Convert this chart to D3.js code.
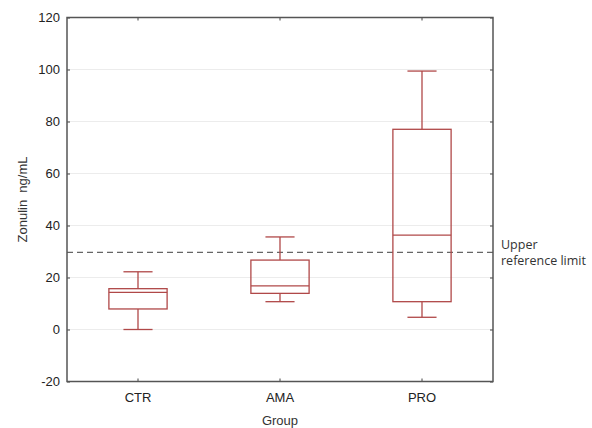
<!DOCTYPE html>
<html>
<head>
<meta charset="utf-8">
<script src="https://cdn.jsdelivr.net/npm/d3@7"></script>
<style>
  body { margin: 0; background: #fff; }
  svg { display: block; }
  .tick text { font-family: "Liberation Sans", Arial, sans-serif; font-size: 13px; fill: #222; }
</style>
</head>
<body>
<div id="chart"></div>
<script>
const groups = ["CTR", "AMA", "PRO"];
const whiskerLow = [0, 10.7, 4.7];
const boxLow = [7.9, 13.9, 10.7];
const medians = [14.3, 16.8, 36.3];
const boxHigh = [15.7, 26.7, 77];
const whiskerHigh = [22.2, 35.6, 99.4];
const yTicks = [-20, 0, 20, 40, 60, 80, 100, 120];
const refLimit = 29.7;

const width = 592, height = 428;
const margin = {top: 17.5, right: 99, bottom: 46.5, left: 67};
const w = width - margin.left - margin.right;
const h = height - margin.top - margin.bottom;
const boxColor = "#b04848";

const svg = d3.select("#chart").append("svg")
    .attr("width", width)
    .attr("height", height);
const chart = svg.append("g").attr("transform", `translate(${margin.left}, ${margin.top})`);

const x = d3.scaleBand().domain(groups).range([0, w]);
const y = d3.scaleLinear().domain([-20, 120]).range([h, 0]);

// grid lines
chart.append("g")
    .selectAll("line")
    .data(yTicks.filter(t => t > -20 && t < 120))
    .enter()
    .append("line")
    .attr("x1", 0).attr("x2", w)
    .attr("y1", d => y(d)).attr("y2", d => y(d))
    .attr("stroke", "#ececec")
    .attr("stroke-width", 1);

// axes
const leftAxis = chart.append("g")
    .call(d3.axisLeft(y).tickValues(yTicks).tickSize(-3).tickPadding(7).tickFormat(d => String(d)));
const rightAxis = chart.append("g").attr("transform", `translate(${w},0)`)
    .call(d3.axisLeft(y).tickValues(yTicks).tickSize(3).tickFormat(""));
const bottomAxis = chart.append("g").attr("transform", `translate(0,${h})`)
    .call(d3.axisBottom(x).tickSize(-3).tickPadding(11));
const topAxis = chart.append("g")
    .call(d3.axisTop(x).tickSize(-3).tickFormat(""));
[leftAxis, rightAxis, bottomAxis, topAxis].forEach(g => {
    g.select(".domain").remove();
    g.selectAll(".tick line").attr("stroke", "#444");
});

// reference line
chart.append("line")
    .attr("x1", 0).attr("x2", w)
    .attr("y1", y(refLimit)).attr("y2", y(refLimit))
    .attr("stroke", "#666")
    .attr("stroke-width", 1.2)
    .attr("stroke-dasharray", "6,4");

// boxes
const bw = x.bandwidth() * 0.41;
const cap = bw / 2;
const box = chart.selectAll(".box")
    .data(groups.map((g, i) => ({g, lo: whiskerLow[i], q1: boxLow[i], med: medians[i], q3: boxHigh[i], hi: whiskerHigh[i]})))
    .enter()
    .append("g")
    .attr("transform", d => `translate(${x(d.g) + x.bandwidth() / 2},0)`)
    .attr("stroke", boxColor)
    .attr("stroke-width", 1.3)
    .attr("fill", "none");

box.append("line").attr("x1", 0).attr("x2", 0).attr("y1", d => y(d.hi)).attr("y2", d => y(d.q3));
box.append("line").attr("x1", 0).attr("x2", 0).attr("y1", d => y(d.q1)).attr("y2", d => y(d.lo));
box.append("line").attr("x1", -cap / 2).attr("x2", cap / 2).attr("y1", d => y(d.hi)).attr("y2", d => y(d.hi));
box.append("line").attr("x1", -cap / 2).attr("x2", cap / 2).attr("y1", d => y(d.lo)).attr("y2", d => y(d.lo));
box.append("rect")
    .attr("x", -bw / 2).attr("width", bw)
    .attr("y", d => y(d.q3)).attr("height", d => y(d.q1) - y(d.q3));
box.append("line").attr("x1", -bw / 2).attr("x2", bw / 2).attr("y1", d => y(d.med)).attr("y2", d => y(d.med));

// frame
chart.append("rect")
    .attr("width", w).attr("height", h)
    .attr("fill", "none")
    .attr("stroke", "#555")
    .attr("stroke-width", 1.5);

// labels
svg.append("text")
    .attr("transform", `translate(27, ${margin.top + h / 2}) rotate(-90)`)
    .attr("text-anchor", "middle")
    .attr("font-family", "Liberation Sans, Arial, sans-serif")
    .attr("font-size", 13)
    .attr("fill", "#333")
    .attr("xml:space", "preserve")
    .text("Zonulin  ng/mL");

svg.append("text")
    .attr("x", margin.left + w / 2)
    .attr("y", 425)
    .attr("text-anchor", "middle")
    .attr("font-family", "Liberation Sans, Arial, sans-serif")
    .attr("font-size", 13)
    .attr("fill", "#333")
    .text("Group");

const ref = svg.append("text")
    .attr("font-family", "Open Sans, sans-serif")
    .attr("font-size", 12.5)
    .attr("fill", "#333");
ref.append("tspan").attr("x", 501).attr("y", 249).text("Upper");
ref.append("tspan").attr("x", 501).attr("y", 265).text("reference limit");
</script>
</body>
</html>
